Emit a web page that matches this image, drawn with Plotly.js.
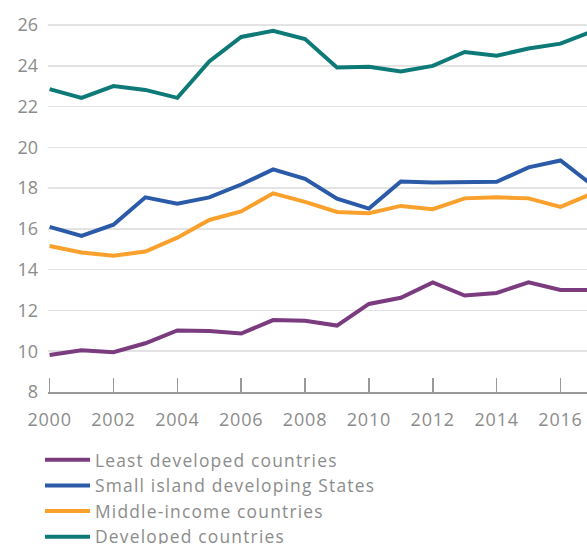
<!DOCTYPE html>
<html>
<head>
<meta charset="utf-8">
<script src="https://cdn.plot.ly/plotly-3.0.1.min.js"></script>
<style>
html,body{margin:0;padding:0;background:#fff;}
#chart{width:587px;height:544px;}
.legendtext{letter-spacing:1.2px;}
.xtick text{letter-spacing:0.8px;}
</style>
</head>
<body>
<div id="chart"></div>
<script>
const years = [2000,2001,2002,2003,2004,2005,2006,2007,2008,2009,2010,2011,2012,2013,2014,2015,2016,2017];
const leastDeveloped = [9.82,10.05,9.95,10.39,11.02,10.99,10.87,11.53,11.50,11.26,12.32,12.62,13.38,12.73,12.86,13.38,13.01,13.01];
const smallIsland = [16.10,15.66,16.21,17.55,17.24,17.55,18.18,18.92,18.46,17.48,17.00,18.33,18.28,18.28,18.31,19.02,19.36,18.15];
const middleIncome = [15.16,14.84,14.68,14.89,15.57,16.44,16.86,17.75,17.33,16.83,16.77,17.13,16.97,17.50,17.55,17.50,17.08,17.74];
const developed = [22.86,22.43,23.01,22.82,22.43,24.22,25.42,25.72,25.32,23.92,23.96,23.72,24.00,24.68,24.50,24.85,25.09,25.70];
const seriesNames = ["Least developed countries","Small island developing States","Middle-income countries","Developed countries"];
const seriesColors = ["#7a3b7f","#2b5aa8","#f9a12c","#0d7a78"];
const xTicks = [2000,2002,2004,2006,2008,2010,2012,2014,2016];
const yTicks = [8,10,12,14,16,18,20,22,24,26];

const allSeries = [leastDeveloped, smallIsland, middleIncome, developed];
const traces = allSeries.map((vals, i) => ({
  x: years, y: vals, type: "scatter", mode: "lines", name: seriesNames[i],
  line: {color: seriesColors[i], width: 4}, cliponaxis: true
}));

const fontFam = "'Open Sans', sans-serif";
const layout = {
  width: 587, height: 544,
  margin: {l: 48, r: 0, t: 19, b: 152, autoexpand: false},
  paper_bgcolor: "#fff", plot_bgcolor: "#fff",
  showlegend: true,
  font: {family: fontFam, color: "#8c8c8c", size: 18},
  xaxis: {
    range: [1999.95, 2016.83], tickvals: xTicks, ticktext: xTicks.map(String), tickangle: 0,
    showgrid: false, zeroline: false, showline: true, linecolor: "#9a9a9a", linewidth: 1.5,
    ticks: "inside", ticklen: 14, tickwidth: 1.5, tickcolor: "#9a9a9a",
    tickfont: {family: fontFam, size: 18, color: "#8c8c8c"}, ticklabelstandoff: 11, automargin: false
  },
  yaxis: {
    range: [8, 26.3], tickvals: yTicks, ticktext: yTicks.map(String),
    showgrid: true, gridcolor: "#e3e3e3", gridwidth: 1.5, zeroline: false, showline: false,
    ticks: "", tickfont: {family: fontFam, size: 18, color: "#8c8c8c"}, ticklabelstandoff: 9, automargin: false
  },
  legend: {
    xref: "container", yref: "container", x: 40/587, y: 1 - 442/544, xanchor: "left", yanchor: "top",
    orientation: "v", font: {family: fontFam, size: 17.4, color: "#8c8c8c"},
    bgcolor: "rgba(0,0,0,0)", tracegroupgap: 0, itemwidth: 45
  }
};
Plotly.newPlot("chart", traces, layout, {displayModeBar: false, staticPlot: true});
</script>
</body>
</html>
